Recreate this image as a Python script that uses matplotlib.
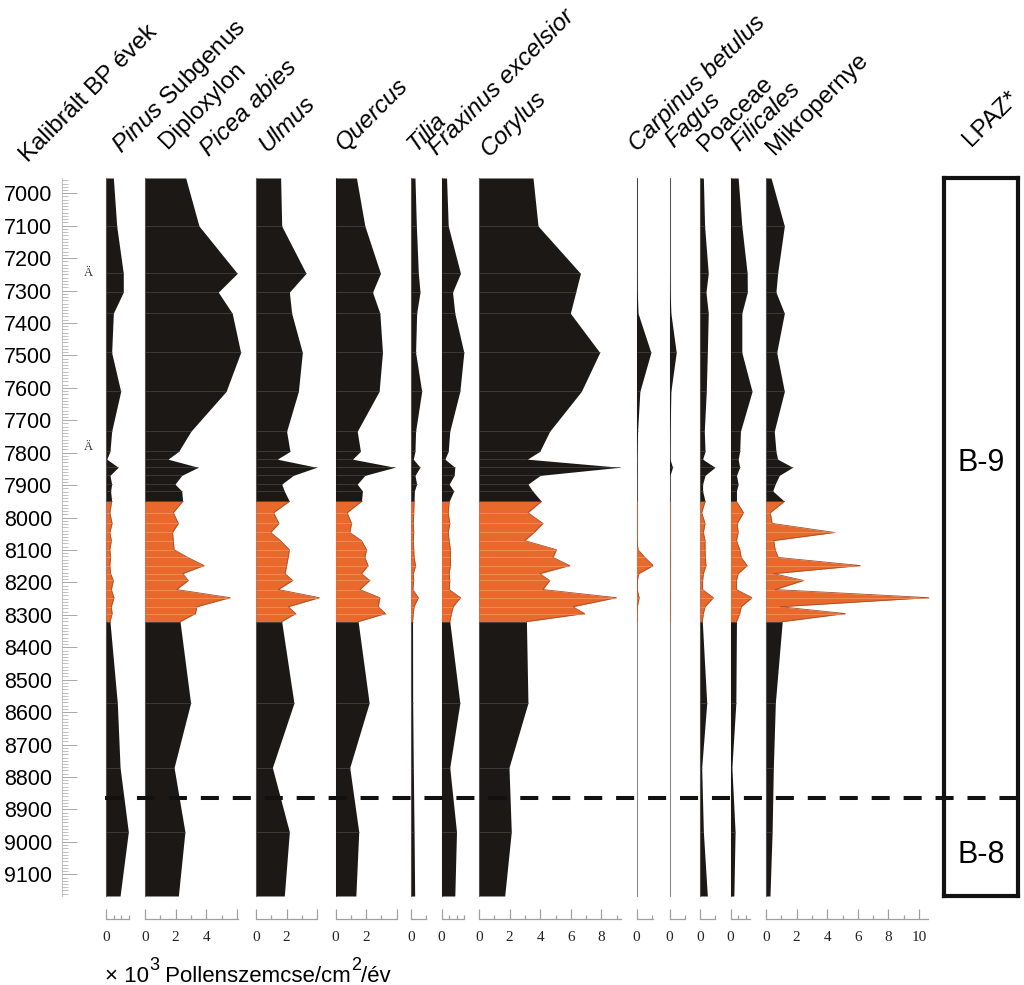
import numpy as np
import matplotlib.pyplot as plt
from matplotlib.ticker import FixedLocator, FuncFormatter
from matplotlib import transforms

plt.rcParams['font.family'] = ['Liberation Sans', 'DejaVu Sans']
plt.rcParams['mathtext.fontset'] = 'custom'
plt.rcParams['mathtext.rm'] = 'Liberation Sans'
plt.rcParams['mathtext.it'] = 'Liberation Sans:italic'
plt.rcParams['lines.scale_dashes'] = False

# minták kora (kalibrált BP)
ages = [6953, 7101, 7247, 7305, 7370, 7491, 7611, 7734, 7796, 7820, 7845, 7870, 7897, 7918, 7950,
        7985, 8018, 8046, 8071, 8099, 8123, 8148, 8173, 8194, 8222, 8247, 8275, 8296, 8321,
        8572, 8771, 8969, 9167]

# x 10^3 pollenszemcse/cm2/év
pinus = [0.48, 0.70, 1.13, 1.13, 0.48, 0.37, 0.96, 0.37, 0.26, 0.05, 0.80, 0.26, 0.37, 0.30, 0.37,
         0.25, 0.40, 0.25, 0.35, 0.25, 0.30, 0.25, 0.30, 0.48, 0.35, 0.52, 0.35, 0.40, 0.26,
         0.74, 0.92, 1.46, 0.92]
picea = [2.66, 3.53, 6.03, 4.79, 5.70, 6.25, 5.30, 3.00, 2.20, 1.50, 3.48, 2.40, 1.96, 2.40, 2.46,
         1.85, 2.18, 1.80, 1.85, 1.90, 2.80, 3.86, 2.46, 2.83, 2.07, 5.56, 3.38, 3.30, 2.29,
         2.98, 1.90, 2.61, 2.18]
ulmus = [1.61, 1.68, 3.27, 2.18, 2.33, 3.03, 2.77, 2.00, 2.22, 1.39, 3.96, 2.44, 1.68, 1.85, 2.18,
         1.15, 1.50, 0.96, 1.60, 2.18, 2.10, 2.00, 1.90, 2.40, 1.46, 4.14, 2.11, 2.59, 1.68,
         2.48, 1.07, 2.18, 1.85]
quercus = [1.37, 1.92, 2.94, 2.42, 2.90, 3.07, 2.85, 1.42, 1.63, 1.11, 3.88, 1.92, 1.42, 1.76, 1.70,
           0.76, 1.05, 0.93, 1.70, 2.03, 1.92, 2.13, 1.70, 2.24, 1.59, 2.90, 2.79, 3.27, 1.48,
           2.20, 0.93, 1.52, 1.33]
tilia = [0.26, 0.35, 0.48, 0.59, 0.37, 0.30, 0.70, 0.30, 0.26, 0.15, 0.59, 0.26, 0.37, 0.22, 0.20,
         0.18, 0.15, 0.18, 0.15, 0.18, 0.20, 0.30, 0.15, 0.18, 0.12, 0.48, 0.20, 0.15, 0.10,
         0.11, 0.15, 0.20, 0.24]
fraxinus = [0.33, 0.44, 1.24, 0.72, 0.87, 1.46, 1.20, 0.54, 0.44, 0.22, 0.87, 0.83, 0.50, 0.80, 0.50,
            0.44, 0.54, 0.44, 0.50, 0.58, 0.58, 0.58, 0.50, 0.54, 0.50, 1.24, 0.76, 0.65, 0.54,
            1.20, 0.54, 0.98, 0.87]
corylus = [3.53, 3.86, 6.63, 6.32, 5.97, 7.89, 6.69, 4.62, 3.97, 3.16, 9.20, 4.00, 3.20, 3.50, 4.08,
           3.20, 4.18, 3.60, 2.99, 5.06, 4.84, 5.93, 3.97, 4.62, 4.18, 8.98, 6.14, 6.90, 3.10,
           3.20, 1.96, 2.11, 1.68]
carpinus = [0.04, 0.04, 0.04, 0.05, 0.10, 0.94, 0.22, 0.07, 0.04, 0.03, 0.04, 0.03, 0.03, 0.03, 0.03,
            0.03, 0.03, 0.03, 0.03, 0.10, 0.55, 1.09, 0.15, 0.05, 0.05, 0.17, 0.05, 0.03, 0.03,
            0.03, 0.03, 0.03, 0.03]
fagus = [0.03, 0.03, 0.03, 0.04, 0.09, 0.44, 0.09, 0.04, 0.03, 0.03, 0.20, 0.03, 0.03, 0.03, 0.03,
         0.03, 0.03, 0.03, 0.03, 0.03, 0.04, 0.04, 0.03, 0.03, 0.03, 0.04, 0.03, 0.03, 0.03,
         0.03, 0.03, 0.03, 0.03]
poaceae = [0.22, 0.30, 0.54, 0.39, 0.54, 0.48, 0.41, 0.28, 0.33, 0.17, 0.98, 0.33, 0.17, 0.17, 0.33,
           0.11, 0.33, 0.22, 0.33, 0.33, 0.35, 0.39, 0.22, 0.17, 0.17, 0.87, 0.33, 0.22, 0.15,
           0.44, 0.11, 0.22, 0.48]
filicales = [0.50, 0.74, 1.09, 1.10, 0.74, 0.74, 1.41, 0.65, 0.60, 0.50, 0.60, 0.39, 0.50, 0.39, 0.39,
             0.85, 0.44, 0.50, 0.39, 0.61, 0.70, 1.09, 0.50, 0.39, 0.39, 1.41, 0.70, 0.60, 0.39,
             0.35, 0.09, 0.30, 0.22]
mikropernye = [0.33, 1.20, 0.76, 0.65, 1.20, 0.70, 1.20, 0.54, 0.65, 0.76, 1.74, 0.87, 0.60, 0.44, 1.20,
               0.28, 0.40, 4.48, 0.50, 0.60, 0.80, 6.16, 0.50, 2.46, 0.60, 10.63, 0.93, 5.18, 1.06,
               0.61, 0.48, 0.40, 0.26]

orange_start, orange_end = 7950, 8321
zone_boundary = 8865
zones = [('B-9', 7833), ('B-8', 9040)]
marks = [7247, 7781]   # "Ä" jelek

# oszlopok: adatsor, bal szél (px), skála hossza, kis osztás, feliratozott értékek
columns = [
    (pinus, 106, 1.5, 0.5, [0]),
    (picea, 145, 6.1, 1, [0, 2, 4]),
    (ulmus, 256, 4.0, 1, [0, 2]),
    (quercus, 335.5, 4.0, 1, [0, 2]),
    (tilia, 411, 1.0, 1, [0]),
    (fraxinus, 441.5, 1.5, 0.5, [0]),
    (corylus, 479, 9.25, 1, [0, 2, 4, 6, 8]),
    (carpinus, 636.5, 1.05, 1, [0]),
    (fagus, 669.5, 1.0, 1, [0]),
    (poaceae, 700, 1.0, 1, [0]),
    (filicales, 730.5, 1.3, 0.5, [0]),
    (mikropernye, 766, 10.6, 1, [0, 2, 4, 6, 8, 10]),
]

# fejlécek: szöveg, dőlt?, bal alsó pont (px)
headers = [
    ('Kalibrált BP évek', False, 28, 163),
    (r'$\mathit{Pinus}$ Subgenus', False, 121, 154),
    ('Diploxylon', False, 167, 149),
    ('Picea abies', True, 209, 157),
    ('Ulmus', True, 267, 153),
    ('Quercus', True, 344, 151),
    ('Tilia', True, 416, 152),
    ('Fraxinus excelsior', True, 437, 156),
    ('Corylus', True, 489, 157),
    ('Carpinus betulus', True, 637, 152),
    ('Fagus', True, 674, 148),
    ('Poaceae', False, 706, 152),
    ('Filicales', True, 739, 152),
    ('Mikropernye', False, 774, 155),
    ('LPAZ*', False, 971, 147),
]

# tengelyfelirat darabjai: szöveg, emelés (px), méret
caption = [('× 10', 0, 16), ('3', 12, 13), (' Pollenszemcse/cm', 0, 16), ('2', 12, 13), ('/év', 0, 16)]

W, H = 1024, 985
PX = 15.3  # px / egység
BLACK = '#1c1816'
ORANGE = '#e9682c'
GRAY = '#a0a0a0'

fig = plt.figure(figsize=(W / 100, H / 100), dpi=100)
top_px, bot_px = 178, 896
b = 1 - bot_px / H
h = (bot_px - top_px) / H

a = np.array(ages)
up = a <= orange_start
mid = (a >= orange_start) & (a <= orange_end)
low = a >= orange_end

for vals, x0, rmax, step, labs in columns:
    v = np.array(vals)
    wu = max(rmax, v.max()) * 1.01
    ax = fig.add_axes([x0 / W, b, wu * PX / W, h])
    ax.set_xlim(0, wu)
    ax.set_ylim(ages[-1], ages[0])
    ax.patch.set_visible(False)
    ax.fill_betweenx(a[up], 0, v[up], color=BLACK, lw=0, zorder=3)
    ax.fill_betweenx(a[low], 0, v[low], color=BLACK, lw=0, zorder=3)
    ax.fill_betweenx(a[mid], 0, v[mid], color=ORANGE, lw=0, zorder=3)
    ax.plot(v[mid], a[mid], color='#a9502a', lw=0.6, zorder=4)
    ax.hlines(a[up | low][1:-1], 0, v[up | low][1:-1], color='#4a4643', lw=0.5, zorder=4)
    ax.hlines(a[mid][1:-1], 0, v[mid][1:-1], color='#f29868', lw=0.5, zorder=4)

    for s in ['top', 'right']:
        ax.spines[s].set_visible(False)
    ax.spines['left'].set_color('#8a8a8a')
    ax.spines['left'].set_linewidth(0.8)
    ax.spines['bottom'].set_position(('outward', 16.5))
    ax.spines['bottom'].set_bounds(0, rmax)
    ax.spines['bottom'].set_color(GRAY)
    ax.spines['bottom'].set_linewidth(0.9)
    ax.set_yticks([])

    allt = np.arange(0, rmax + 1e-6, step)
    majors = [t for t in allt if abs(t / 2 - round(t / 2)) < 1e-6] if rmax >= 2 else [0]
    minors = [t for t in allt if all(abs(t - m) > 1e-6 for m in majors)]
    ax.xaxis.set_major_locator(FixedLocator(majors))
    ax.xaxis.set_minor_locator(FixedLocator(minors))
    ax.xaxis.set_major_formatter(FuncFormatter(
        lambda x, p, labs=labs: f'{x:g}' if any(abs(x - l) < 1e-6 for l in labs) else ''))
    ax.tick_params(axis='x', which='major', direction='in', length=7, width=0.9, color=GRAY,
                   labelsize=11, pad=9, labelcolor='#222222', labelfontfamily='Liberation Serif')
    ax.tick_params(axis='x', which='minor', direction='in', length=3, width=0.9, color=GRAY)

# kor tengely
ax_age = fig.add_axes([62 / W, b, 20 / W, h])
ax_age.set_ylim(ages[-1], ages[0])
ax_age.patch.set_visible(False)
for s in ['top', 'right', 'bottom']:
    ax_age.spines[s].set_visible(False)
ax_age.spines['left'].set_color('#b5b5b5')
ax_age.spines['left'].set_linewidth(0.6)
ax_age.set_xticks([])
ax_age.set_yticks(np.arange(7000, 9101, 100))
ax_age.yaxis.set_minor_locator(FixedLocator(np.arange(6960, 9161, 10)))
ax_age.tick_params(axis='y', which='major', direction='in', length=10.8, width=0.7,
                   color='#a8a8a8', labelsize=15.5, pad=7)
ax_age.tick_params(axis='y', which='minor', direction='in', length=4.6, width=0.6, color='#b5b5b5')
tr = transforms.blended_transform_factory(fig.transFigure, ax_age.transData)
for m in marks:
    ax_age.text(88.5 / W, m, 'Ä', transform=tr, ha='center', va='center',
                fontsize=9, family='Liberation Serif', color='#333333')

# LPAZ oszlop
ax_z = fig.add_axes([944 / W, b, 74 / W, h])
ax_z.set_ylim(ages[-1], ages[0])
ax_z.set_xticks([])
ax_z.set_yticks([])
for s in ax_z.spines.values():
    s.set_linewidth(3)
    s.set_color('#111111')
for name, yy in zones:
    ax_z.text(0.5, yy, name, transform=ax_z.get_yaxis_transform(), ha='center', va='center',
              fontsize=22)

# zónahatár
ax_o = fig.add_axes([105 / W, b, (1021 - 105) / W, h])
ax_o.set_ylim(ages[-1], ages[0])
ax_o.axis('off')
ax_o.axhline(zone_boundary, color='#111111', lw=2.9, dashes=(13, 10))

for text, ital, x, y in headers:
    fig.text(x / W, 1 - y / H, text, rotation=45, rotation_mode='anchor', ha='left',
             va='baseline', fontsize=17.5, fontstyle='italic' if ital else 'normal')

renderer = fig.canvas.get_renderer()
cx = 105
for s, dy, fs in caption:
    t = fig.text(cx / W, 1 - (982 - dy) / H, s, fontsize=fs, ha='left', va='baseline')
    cx += t.get_window_extent(renderer=renderer).width

fig.savefig('out.png', dpi=100)
